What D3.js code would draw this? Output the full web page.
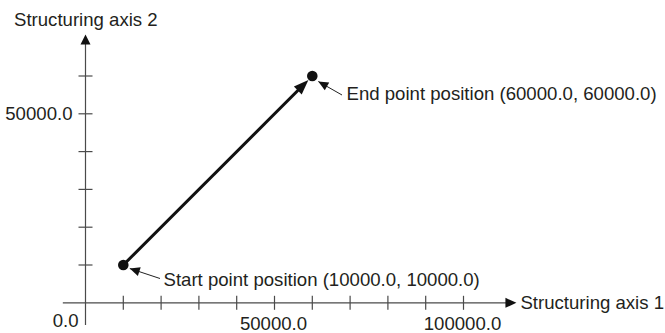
<!DOCTYPE html>
<html lang="en">
  <head>
    <meta charset="utf-8" />
    <title>Linear interpolation: start and end point</title>
    <script src="https://d3js.org/d3.v7.min.js"></script>
    <style type="text/css">
      body { margin: 0; background: #fff; }
      text { font-family: "Liberation Sans", Arial, sans-serif; font-size: 18.6px; fill: #231f20; }
    </style>
  </head>
  <body>
    <script type="text/javascript">
      // data
      const xTicks = [10000, 20000, 30000, 40000, 50000, 60000, 70000, 80000, 90000, 100000];
      const yTicks = [10000, 20000, 30000, 40000, 50000, 60000];
      const xTickLabels = ["50000.0", "100000.0"];
      const xLabelValues = [50000, 100000];
      const yTickLabels = ["50000.0"];
      const yLabelValues = [50000];
      const startPoint = [10000, 10000];
      const endPoint = [60000, 60000];
      const pointNames = ["Start point position", "End point position"];

      //Width and height
      const w = 665;
      const h = 333;

      const xScale = d3.scaleLinear().domain([0, 100000]).range([85.5, 463.5]);
      const yScale = d3.scaleLinear().domain([0, 60000]).range([302.8, 76]);

      const svg = d3.select("body").append("svg").attr("width", w).attr("height", h);

      const axisColor = "#4a4a4a";

      // small helper: filled triangle pointing from (x1,y1) to tip (x2,y2)
      function arrowHead(x1, y1, x2, y2, len, half) {
        const a = Math.atan2(y2 - y1, x2 - x1);
        const bx = x2 - len * Math.cos(a);
        const by = y2 - len * Math.sin(a);
        const px = -Math.sin(a) * half;
        const py = Math.cos(a) * half;
        return "M" + x2 + "," + y2 + "L" + (bx + px) + "," + (by + py) + "L" + (bx - px) + "," + (by - py) + "Z";
      }

      const x0 = xScale(0);
      const y0 = yScale(0);

      //Axes lines
      const xEnd = xScale(114000);
      const yEnd = yScale(71000);
      svg.append("line")
        .attr("x1", xScale(-6000)).attr("y1", y0)
        .attr("x2", xEnd - 6).attr("y2", y0)
        .attr("stroke", axisColor).attr("stroke-width", 1.2);
      svg.append("path")
        .attr("d", arrowHead(x0, y0, xEnd, y0, 11, 5))
        .attr("fill", "#111");

      svg.append("line")
        .attr("x1", x0).attr("y1", yScale(-5900))
        .attr("x2", x0).attr("y2", yEnd + 6)
        .attr("stroke", axisColor).attr("stroke-width", 1.2);
      svg.append("path")
        .attr("d", arrowHead(x0, y0, x0, yEnd, 10, 5))
        .attr("fill", "#111");

      //Ticks
      svg.selectAll("line.xtick")
        .data(xTicks)
        .enter()
        .append("line")
        .attr("class", "xtick")
        .attr("x1", function (d) { return xScale(d); })
        .attr("x2", function (d) { return xScale(d); })
        .attr("y1", y0 - 7)
        .attr("y2", y0 + 7)
        .attr("stroke", axisColor).attr("stroke-width", 1.2);

      svg.selectAll("line.ytick")
        .data(yTicks)
        .enter()
        .append("line")
        .attr("class", "ytick")
        .attr("y1", function (d) { return yScale(d); })
        .attr("y2", function (d) { return yScale(d); })
        .attr("x1", x0 - 7)
        .attr("x2", x0 + 7)
        .attr("stroke", axisColor).attr("stroke-width", 1.2);

      //Tick labels
      svg.selectAll("text.xlabel")
        .data(xLabelValues)
        .enter()
        .append("text")
        .attr("class", "xlabel")
        .attr("x", function (d) { return xScale(d) - 1; })
        .attr("y", 329.5)
        .attr("text-anchor", "middle")
        .text(function (d, i) { return xTickLabels[i]; });

      svg.append("text")
        .attr("x", x0 - 7)
        .attr("y", 327)
        .attr("text-anchor", "end")
        .text("0.0");

      svg.selectAll("text.ylabel")
        .data(yLabelValues)
        .enter()
        .append("text")
        .attr("class", "ylabel")
        .attr("x", x0 - 13)
        .attr("y", function (d) { return yScale(d) + 6.5; })
        .attr("text-anchor", "end")
        .text(function (d, i) { return yTickLabels[i]; });

      //Axis titles
      svg.append("text")
        .attr("x", xEnd + 4)
        .attr("y", y0 + 6.5)
        .text("Structuring axis 1");

      svg.append("text")
        .attr("x", 14)
        .attr("y", 26)
        .text("Structuring axis 2");

      //Main movement arrow
      const sx = xScale(startPoint[0]), sy = yScale(startPoint[1]);
      const ex = xScale(endPoint[0]), ey = yScale(endPoint[1]);
      const ang = Math.atan2(ey - sy, ex - sx);
      const tipX = ex - 5.5 * Math.cos(ang), tipY = ey - 5.5 * Math.sin(ang);
      svg.append("line")
        .attr("x1", sx).attr("y1", sy)
        .attr("x2", tipX - 10 * Math.cos(ang)).attr("y2", tipY - 10 * Math.sin(ang))
        .attr("stroke", "#111").attr("stroke-width", 3);
      svg.append("path")
        .attr("d", arrowHead(sx, sy, tipX, tipY, 15, 5.5))
        .attr("fill", "#111");

      //Points
      svg.selectAll("circle")
        .data([startPoint, endPoint])
        .enter()
        .append("circle")
        .attr("cx", function (d) { return xScale(d[0]); })
        .attr("cy", function (d) { return yScale(d[1]); })
        .attr("r", 5.3)
        .attr("fill", "#111");

      //Annotations (leader from label to point)
      const notes = [
        { p: startPoint, name: pointNames[0], tx: 163.5, ty: 285.5, lx: 160, ly: 278.5, dx: 6.5, dy: 3.5 },
        { p: endPoint, name: pointNames[1], tx: 346.5, ty: 100, lx: 342, ly: 95, dx: 6, dy: 5.5 }
      ];
      notes.forEach(function (n) {
        const px = xScale(n.p[0]) + n.dx, py = yScale(n.p[1]) + n.dy;
        svg.append("line")
          .attr("x1", n.lx).attr("y1", n.ly)
          .attr("x2", px).attr("y2", py)
          .attr("stroke", "#222").attr("stroke-width", 1);
        svg.append("path")
          .attr("d", arrowHead(n.lx, n.ly, px, py, 10, 4.5))
          .attr("fill", "#111");
        svg.append("text")
          .attr("x", n.tx)
          .attr("y", n.ty)
          .text(n.name + " (" + n.p[0].toFixed(1) + ", " + n.p[1].toFixed(1) + ")");
      });
    </script>
  </body>
</html>
